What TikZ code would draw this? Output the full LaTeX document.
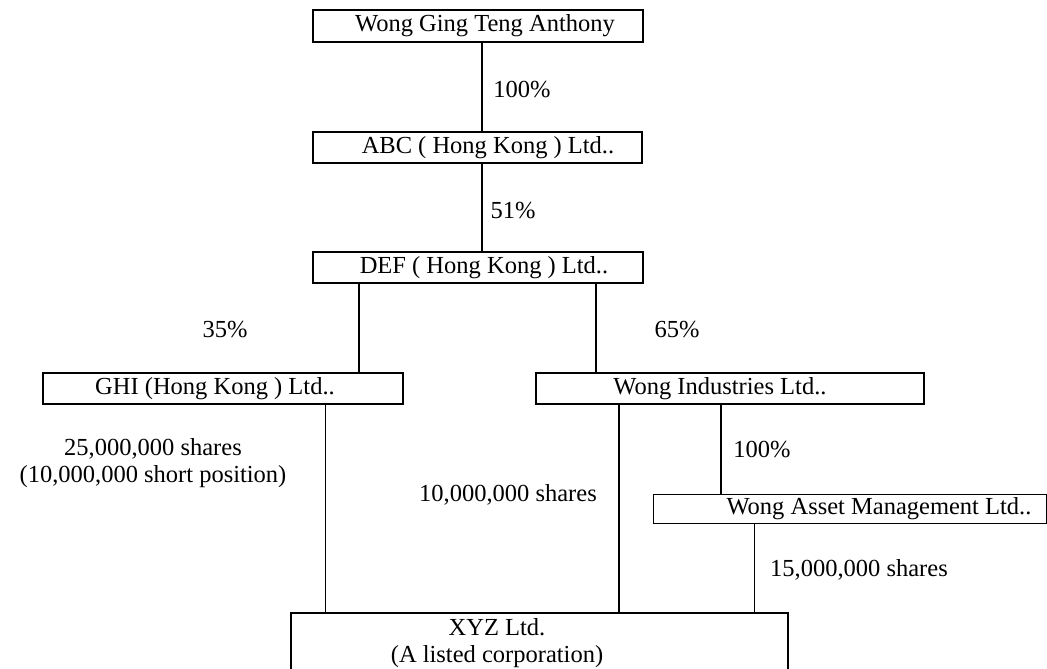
\documentclass[tikz,border=0pt]{standalone}
\usepackage{fontspec}
\setmainfont{Liberation Serif}
\begin{document}
\begin{tikzpicture}[x=1pt,y=-1pt,
  every node/.style={font=\fontsize{24.5}{27}\selectfont, inner sep=0pt},
  box/.style={draw, line width=1.6pt, minimum height=31pt},
  thinbox/.style={draw, line width=1pt, minimum height=29pt},
  link/.style={line width=1.6pt},
  thinlink/.style={line width=1pt},
  lbl/.style={align=center}]
\clip (0,0) rectangle (1047,669);
\useasboundingbox (0,0) rectangle (1047,669);

\node[box, minimum width=330pt, minimum height=32pt] (A) at (478,26) {\hspace*{14pt}Wong Ging Teng Anthony};
\node[box, minimum width=329pt] (B) at (477.5,147.5) {\hspace*{21pt}ABC ( Hong Kong ) Ltd..};
\node[box, minimum width=330pt] (C) at (478,267.5) {\hspace*{12pt}DEF ( Hong Kong ) Ltd..};
\node[box, minimum width=360pt] (D) at (223,388.5) {GHI (Hong Kong ) Ltd..\hspace*{16pt}};
\node[box, minimum width=388pt] (E) at (730,388.5) {Wong Industries Ltd..\hspace*{20pt}};
\node[thinbox, minimum width=393pt] (F) at (849.5,508.5) {\hspace*{59pt}Wong Asset Management Ltd..};
\node[draw, line width=2pt, minimum width=497pt, minimum height=107pt] (G) at (539.5,666.5) {};
\node[lbl] (Gt) at (497,643) {XYZ Ltd.\\(A listed corporation)};

\draw[link] ([xshift=4pt]A.south) -- ([xshift=4pt]A.south |- B.north);
\draw[link] ([xshift=4.5pt]B.south) -- ([xshift=4.5pt]B.south |- C.north);
\draw[link] ([xshift=-119pt]C.south) -- ([xshift=-119pt]C.south |- D.north);
\draw[link] ([xshift=118pt]C.south) -- ([xshift=118pt]C.south |- E.north);
\draw[thinlink] ([xshift=102pt]D.south) -- ([xshift=102pt]D.south |- G.north);
\draw[link] ([xshift=-111pt]E.south) -- ([xshift=-111pt]E.south |- G.north);
\draw[link] ([xshift=-9pt]E.south) -- ([xshift=-9pt]E.south |- F.north);
\draw[thinlink] ([xshift=-95.5pt]F.south) -- ([xshift=-95.5pt]F.south |- G.north);

\node (l1) at (522,90) {100\%};
\node (l2) at (513,211) {51\%};
\node (l3) at (225,330) {35\%};
\node (l4) at (677,330) {65\%};
\node[lbl] (l5) at (153,463) {25,000,000 shares\\(10,000,000 short position)};
\node (l6) at (762,450) {100\%};
\node (l7) at (508,495) {10,000,000 shares};
\node (l8) at (859,570) {15,000,000 shares};
\end{tikzpicture}
\end{document}
